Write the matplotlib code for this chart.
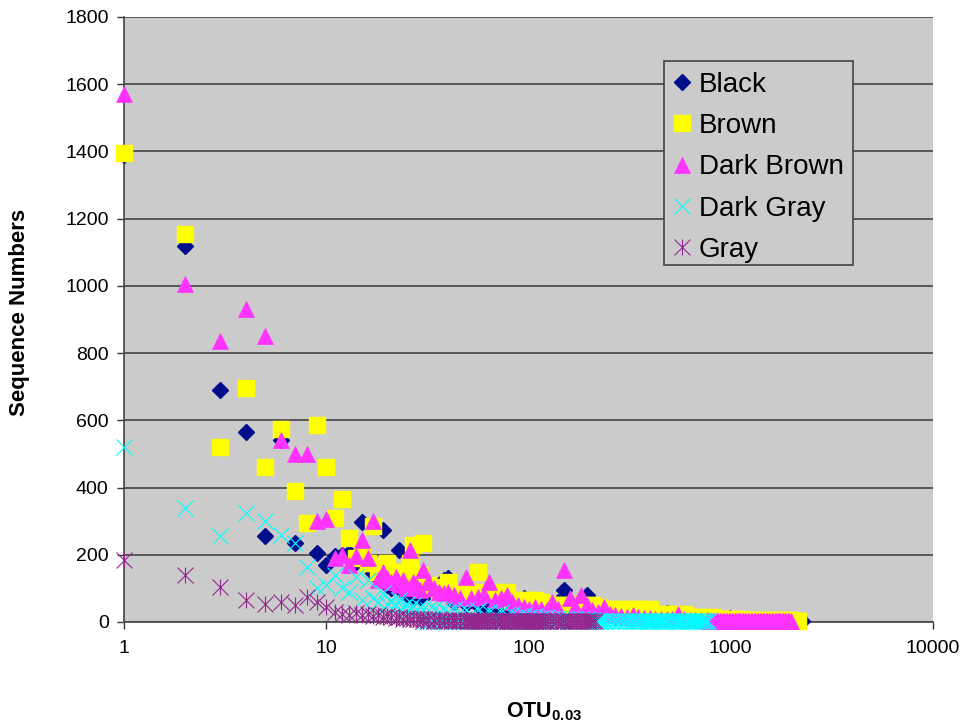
import matplotlib
matplotlib.use("Agg")
import matplotlib.pyplot as plt
from matplotlib.path import Path
from matplotlib.patches import Rectangle

plt.rcParams['font.family'] = ['Liberation Sans', 'DejaVu Sans']
plt.rcParams['mathtext.fontset'] = 'custom'
plt.rcParams['mathtext.bf'] = 'Liberation Sans:bold'
plt.rcParams['mathtext.rm'] = 'Liberation Sans'

# OTU rank positions, shared by all series
ranks = [1,2,3,4,5,6,7,8,9,10,11,12,13,14,15,16,17,18,19,20,21,22,23,24,25,26,27,28,29,30,
         32,34,36,38,40,43,46,49,52,56,60,64,68,73,78,83,89,95,101,108,
         115,123,131,140,150,160,170,182,194,207,221,236,252,269,287,
         306,327,349,372,397,424,452,483,515,550,587,627,669,714,762,
         813,868,926,988,1054,1125,1200,1281,1367,1459,1557,1662,1773,1892,2019,2150,2250]

black = [1390,1120,690,565,255,540,235,295,205,170,195,200,205,180,297,170,145,130,275,110,
         100,120,215,90,80,100,70,85,75,110,
         90,105,110,125,130,60,75,55,65,50,50,45,55,40,45,50,35,70,40,30,
         40,30,25,60,95,50,40,65,80,45,25,20,20,15,15,15,12,12,10,12,
         10,10,27,10,8,8,6,6,6,6,5,5,5,12,4,4,3,3,3,3,3,3,2,2,2,2,2]

brown = [1395,1155,520,695,460,575,390,295,585,460,310,365,250,190,195,175,285,150,165,175,
         130,150,120,140,110,175,230,120,140,235,
         110,100,95,105,120,85,90,90,90,150,90,85,90,80,90,65,65,65,65,65,
         60,55,50,50,50,50,50,50,50,50,45,40,40,40,40,40,40,38,38,38,
         25,25,25,25,25,25,15,15,15,15,15,8,8,8,8,8,6,6,6,6,6,6,5,5,5,4]

dark_brown = [1570,1005,835,930,850,540,500,500,300,305,190,200,170,195,245,190,300,125,150,130,
              120,135,110,125,100,215,120,105,95,155,
              120,100,90,85,90,80,70,135,70,75,80,120,65,70,80,60,50,45,40,45,
              40,35,60,40,155,70,45,80,50,35,30,45,25,20,18,15,20,15,12,12,
              10,10,8,8,25,8,6,5,5,5]

dark_gray = [520,340,255,325,300,260,235,165,100,110,140,100,90,135,65,125,70,60,85,55,
             60,50,65,45,55,40,50,35,45,40,
             35,40,30,35,30,40,30,35,25,35,25,30,20,30,20,25,15,20,15,18,
             12,15,12,12,10,10,8,10,8,6]

gray = [185,140,105,65,55,60,50,75,60,45,30,25,22,28,20,25,18,20,15,18,
        15,12,15,10,12,10,8,10,8,8,
        8,7,8,6,7,6,6,5,6,5,5,5,4,5,4,4,4,3,4,3]

# long runs of rare OTUs that pile up along the axis
band_ranks = [30,31,32,33,34,35,36,37,38,39,40,41,42,43,44,45,46,47,48,49,
              50,51,52,53,54,55,56,57,58,59,60,62,64,66,68,70,72,74,76,78,
              80,82,84,86,88,90,92,94,96,98,100,102,104,106,108,110,112,114,116,118,
              120,124,128,132,136,140,144,148,152,156,160,164,168,172,176,180,184,188,192,196,
              200,204,208,212,216,220,224,228,232,236,240,248,256,264,272,280,288,296,304,312,
              320,328,336,344,352,360,368,376,384,392,400,408,416,424,432,440,448,456,464,472,
              480,492,504,516,528,540,552,564,576,588,600,612,624,636,648,660,672,684,696,708,
              720,732,744,756,768]

gray_band = [2,2,2,2,2,2,2,2,2,2, 2,2,2,2,2,2,2,2,2,2,
             2,2,2,2,2,2,2,2,2,2, 2,2,2,2,2,2,2,2,2,2,
             2,2,2,2,2,2,2,2,2,2, 2,2,2,2,2,2,2,2,2,2,
             2,2,2,2,2,2,2,2,2,2, 2,2,2,2]

dark_gray_band = [2,2,2,2,2,2,2,2,2,2, 2,2,2,2,2,2,2,2,2,2,
                  2,2,2,2,2,2,2,2,2,2, 2,2,2,2,2,2,2,2,2,2,
                  2,2,2,2,2,2,2,2,2,2, 2,2,2,2,2,2,2,2,2,2,
                  2,2,2,2,2,2,2,2,2,2, 2,2,2,2,2,2,2,2,2,2,
                  2,2,2,2,2,2,2,2,2,2, 2,2,2,2,2,2,2,2,2,2,
                  2,2,2,2,2,2,2,2,2,2, 2,2,2,2,2,2,2,2,2,2,
                  2,2,2,2,2,2,2,2,2,2, 2,2,2,2,2,2,2,2,2,2,
                  2,2,2,2,2]

dark_brown_band_ranks = [770,783,796,810,824,838,852,866,881,896,911,927,943,959,975,992,1009,1026,1044,1062,
                         1080,1098,1117,1136,1155,1175,1195,1215,1236,1257,1278,1300,1322,1345,1368,1391,1415,1439,1463,1488,
                         1513,1539,1565,1592,1619,1646,1674,1703,1732,1761,1791,1822,1853,1884,1916,1949,1982]

dark_brown_band = [3,3,3,3,3,3,3,3,3,3, 3,3,3,3,3,3,3,3,3,3,
                   3,3,3,3,3,3,3,3,3,3, 3,3,3,3,3,3,3,3,3,3,
                   3,3,3,3,3,3,3,3,3,3, 3,3,3,3,3,3,3]

x_ticks = [1,10,100,1000,10000]
y_ticks = [0,200,400,600,800,1000,1200,1400,1600,1800]

star = Path([(-1,-1),(1,1),(-1,1),(1,-1),(0,-1),(0,1)],
            [Path.MOVETO,Path.LINETO,Path.MOVETO,Path.LINETO,Path.MOVETO,Path.LINETO])

fig = plt.figure(figsize=(9.65,7.28),dpi=100)
ax = fig.add_axes([124/965,1-622/728,(933-124)/965,(622-17)/728])
ax.set_facecolor('#cbcbcb')

# gray is hatched below rank 50, solid after that
gray_band_ranks = band_ranks[:20:2]+band_ranks[20:84]

ax.plot(ranks[:len(black)],black,ls='none',marker='D',ms=8.2,mfc='#000e8c',mec='#000e8c',clip_on=False,label='Black',zorder=3)
ax.plot(ranks[:len(brown)],brown,ls='none',marker='s',ms=11,mfc='#ffff00',mec='#ffff00',clip_on=False,label='Brown',zorder=3.1)
ax.plot(ranks[:len(dark_brown)]+dark_brown_band_ranks,dark_brown+dark_brown_band,ls='none',marker='^',ms=11.5,mfc='#ff33ff',mec='#ff33ff',mew=0.5,clip_on=False,label='Dark Brown',zorder=3.2)
ax.plot(ranks[:len(dark_gray)]+band_ranks[:len(dark_gray_band)],dark_gray+dark_gray_band,ls='none',marker='x',ms=11.5,mec='#00ffff',mew=0.8,clip_on=False,label='Dark Gray',zorder=3.3)
ax.plot(ranks[:len(gray)]+gray_band_ranks,gray+gray_band,ls='none',marker=star,ms=11.5,mfc='none',mec='#93278f',mew=0.8,clip_on=False,label='Gray',zorder=3.4)

ax.set_xscale('log')
ax.set_xlim(1,10000)
ax.set_ylim(0,1800)
ax.set_xticks(x_ticks)
ax.set_xticklabels([str(v) for v in x_ticks])
ax.minorticks_off()
ax.set_yticks(y_ticks)
ax.tick_params(axis='both',labelsize=14,length=5,width=1,color='#333333',labelcolor='black')
ax.tick_params(axis='x',pad=8)
ax.tick_params(axis='y',pad=6)
ax.yaxis.grid(True,color='#444444',lw=1.2,zorder=1)
ax.set_axisbelow(True)
for s in ['top','right']:
    ax.spines[s].set_visible(False)
for s in ['left','bottom']:
    ax.spines[s].set_color('#444444')
    ax.spines[s].set_linewidth(1.2)

# legend box drawn apart so the rows can sit a little lower in it
ax.add_patch(Rectangle((664/965,1-265/728),189/965,204/728,transform=fig.transFigure,clip_on=False,
                       facecolor='#cbcbcb',edgecolor='#444444',lw=1.2,zorder=4.9))
leg = ax.legend(loc='upper left',bbox_to_anchor=(664/965,1-65/728),bbox_transform=fig.transFigure,
                fontsize=20,frameon=False,
                borderaxespad=0,borderpad=0.25,labelspacing=0.547,handletextpad=0.216,handlelength=0.79,numpoints=1)
leg.set_zorder(5)

fig.text(544/965,1-712/728,r'$\mathbf{OTU_{0.03}}$',fontsize=15.5,ha='center',va='center')
fig.text(20/965,1-312/728,'Sequence Numbers',fontsize=16,fontweight='bold',rotation=90,ha='center',va='center')

fig.savefig('out.png',dpi=100)
